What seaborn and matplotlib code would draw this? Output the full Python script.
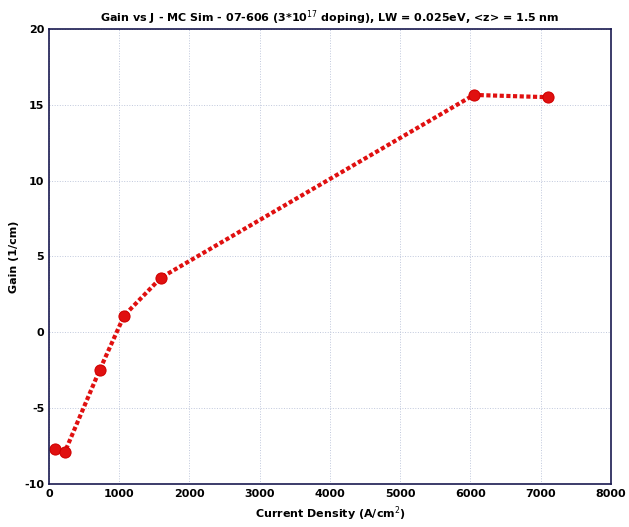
import matplotlib
matplotlib.use("Agg")
import matplotlib.pyplot as plt
import seaborn as sns
import pandas as pd

current_density = [85, 225, 720, 1070, 1595, 6050, 7110]
gain = [-7.7, -7.9, -2.5, 1.1, 3.6, 15.65, 15.5]
x_ticks = [0, 1000, 2000, 3000, 4000, 5000, 6000, 7000, 8000]
y_ticks = [-10, -5, 0, 5, 10, 15, 20]

sns.set_style("white")
plt.rcParams['font.family'] = ['DejaVu Sans']
plt.rcParams['axes.unicode_minus'] = False

df = pd.DataFrame({"J": current_density, "G": gain})

fig = plt.figure(figsize=(6.29, 5.27), dpi=100)
ax = fig.add_axes([0.078, 0.082, 0.893, 0.863])

sns.lineplot(data=df, x="J", y="G", ax=ax, color="#e01010", linestyle=(0, (1, 0.6)),
             linewidth=3, marker="o", markersize=8, markeredgecolor="#d00000",
             markerfacecolor="#e01010", sort=False)

ax.set_xlim(0, 8000)
ax.set_ylim(-10, 20)
ax.set_xticks(x_ticks)
ax.set_yticks(y_ticks)
ax.tick_params(axis="both", labelsize=8, direction="in", length=4, width=1,
               colors="black")
for lab in ax.get_xticklabels() + ax.get_yticklabels():
    lab.set_fontweight("bold")
ax.grid(True, linestyle=":", color="#c0c8dc", linewidth=0.7)
for s in ax.spines.values():
    s.set_color("#1a1a50")
    s.set_linewidth(1.2)
ax.set_xlabel("Current Density (A/cm$^2$)", fontsize=8, fontweight="bold", color="black")
ax.set_ylabel("Gain (1/cm)", fontsize=8, fontweight="bold", color="black")
ax.set_title("Gain vs J - MC Sim - 07-606 (3*10$^{17}$ doping), LW = 0.025eV, <z> = 1.5 nm",
             fontsize=8, fontweight="bold", pad=5, color="black")

fig.savefig("out.png", dpi=100)
